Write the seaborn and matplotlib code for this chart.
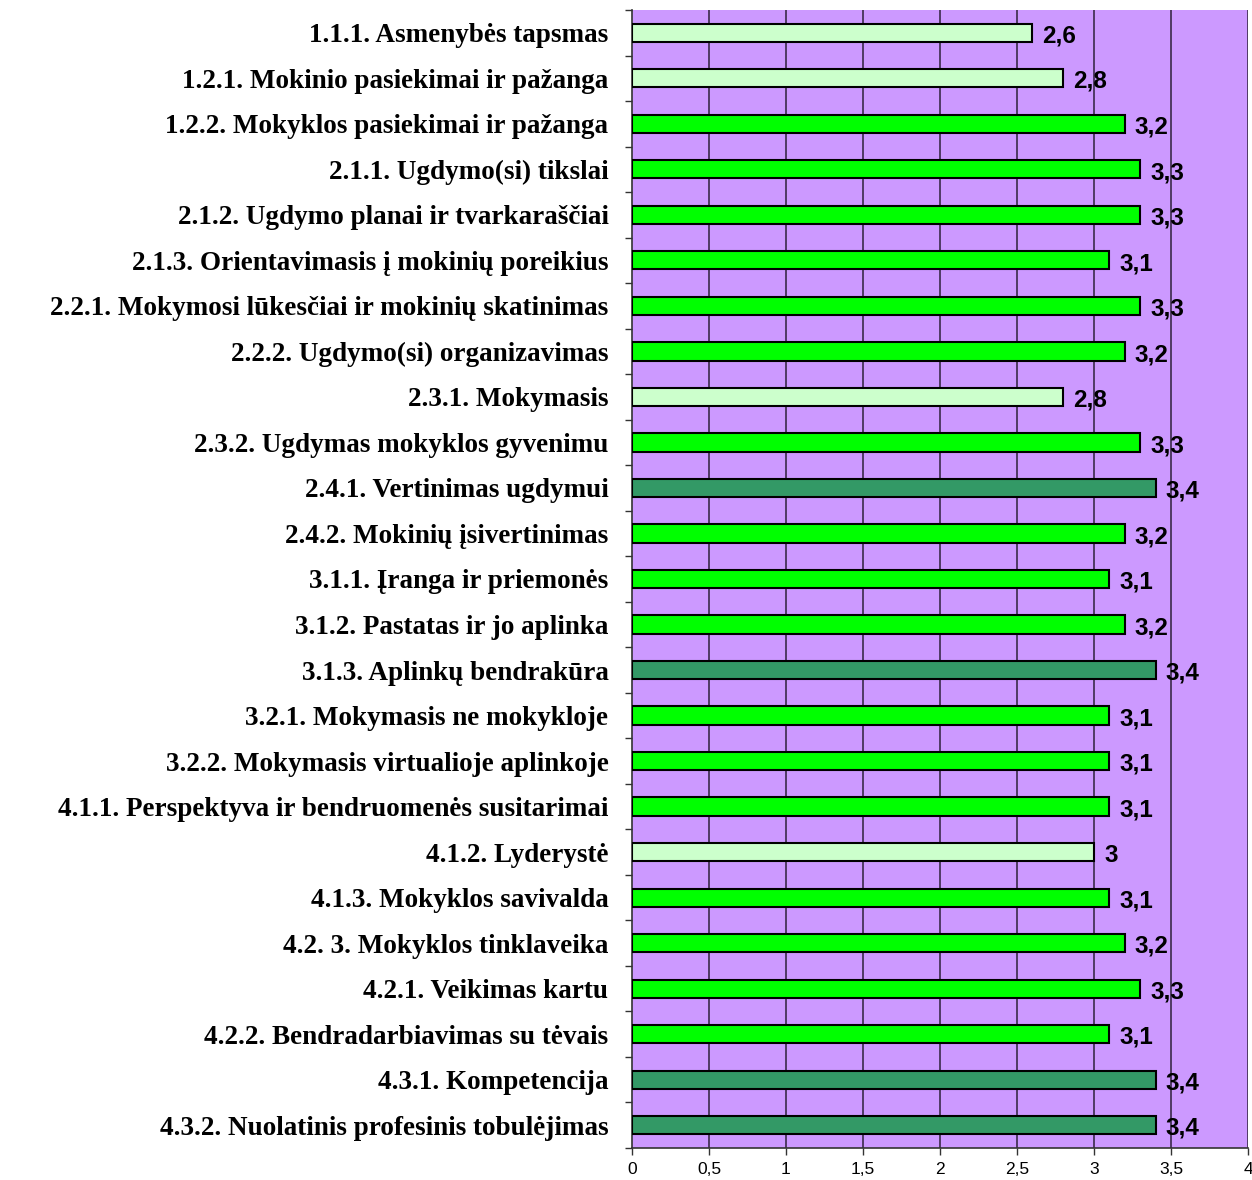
import matplotlib
matplotlib.use("Agg")
import matplotlib.pyplot as plt
import seaborn as sns
import pandas as pd
import numpy as np
from matplotlib.ticker import FixedLocator

categories = [
    "1.1.1. Asmenybės tapsmas",
    "1.2.1. Mokinio pasiekimai ir pažanga",
    "1.2.2. Mokyklos pasiekimai ir pažanga",
    "2.1.1. Ugdymo(si) tikslai",
    "2.1.2. Ugdymo planai ir tvarkaraščiai",
    "2.1.3. Orientavimasis į mokinių poreikius",
    "2.2.1. Mokymosi lūkesčiai ir mokinių skatinimas",
    "2.2.2. Ugdymo(si) organizavimas",
    "2.3.1. Mokymasis",
    "2.3.2. Ugdymas mokyklos gyvenimu",
    "2.4.1. Vertinimas ugdymui",
    "2.4.2. Mokinių įsivertinimas",
    "3.1.1. Įranga ir priemonės",
    "3.1.2. Pastatas ir jo aplinka",
    "3.1.3. Aplinkų bendrakūra",
    "3.2.1. Mokymasis ne mokykloje",
    "3.2.2. Mokymasis virtualioje aplinkoje",
    "4.1.1. Perspektyva ir bendruomenės susitarimai",
    "4.1.2. Lyderystė",
    "4.1.3. Mokyklos savivalda",
    "4.2. 3. Mokyklos tinklaveika",
    "4.2.1. Veikimas kartu",
    "4.2.2. Bendradarbiavimas su tėvais",
    "4.3.1. Kompetencija",
    "4.3.2. Nuolatinis profesinis tobulėjimas",
]
values = [2.6, 2.8, 3.2, 3.3, 3.3, 3.1, 3.3, 3.2, 2.8, 3.3, 3.4, 3.2, 3.1, 3.2,
          3.4, 3.1, 3.1, 3.1, 3.0, 3.1, 3.2, 3.3, 3.1, 3.4, 3.4]
levels = ["low", "low", "mid", "mid", "mid", "mid", "mid", "mid", "low", "mid",
          "high", "mid", "mid", "mid", "high", "mid", "mid", "mid", "low", "mid",
          "mid", "mid", "mid", "high", "high"]
palette = {"low": "#CCFFCC", "mid": "#00FF00", "high": "#339966"}
x_ticks = [0, 0.5, 1, 1.5, 2, 2.5, 3, 3.5, 4]
x_tick_labels = ["0", "0,5", "1", "1,5", "2", "2,5", "3", "3,5", "4"]

df = pd.DataFrame({"cat": categories, "val": values, "lvl": levels})

fig = plt.figure(figsize=(12.52, 11.80), dpi=100)
ax = fig.add_axes([632/1252, 1 - 1148/1180, (1248-632)/1252, (1148-10)/1180])
ax.set_facecolor("#CC99FF")

sns.barplot(data=df, x="val", y="cat", hue="lvl", palette=palette, dodge=False,
            order=categories, orient="h", width=0.4, edgecolor="black",
            linewidth=1.5, saturation=1, legend=False, ax=ax, zorder=3)

ax.set_xlim(0, 4)
ax.set_ylim(24.5, -0.5)
ax.set_xticks(x_ticks)
ax.set_xticklabels(x_tick_labels, fontsize=12.5, family="Liberation Sans")
for xv in x_ticks[1:]:
    ax.axvline(xv, color="#3a2a4a", lw=1.2, zorder=1)

ax.set_yticks(range(len(categories)))
ax.set_yticklabels(categories, fontsize=19.5, family="Liberation Serif", fontweight="bold")
ax.yaxis.set_minor_locator(FixedLocator(np.arange(-0.5, len(categories), 1)))
ax.tick_params(axis="y", which="major", length=0, pad=17)
ax.tick_params(axis="y", which="minor", length=5, width=1, color="#333333", direction="out")
ax.tick_params(axis="x", length=5, width=1, color="#333333", direction="out", pad=5)

for i, v in enumerate(values):
    lab = (f"{v:.1f}".replace(".", ",")) if v != int(v) else str(int(v))
    ax.text(v + 0.065, i + 0.07, lab, va="center", ha="left", fontsize=17.5,
            fontweight="bold", family="Liberation Sans", zorder=4)

ax.set_xlabel("")
ax.set_ylabel("")
for s in ["top", "right"]:
    ax.spines[s].set_visible(False)
ax.spines["left"].set_color("#333333")
ax.spines["bottom"].set_color("#333333")
ax.spines["left"].set_linewidth(1.2)
ax.spines["bottom"].set_linewidth(1.2)

fig.savefig("out.png", dpi=100, facecolor="white")
